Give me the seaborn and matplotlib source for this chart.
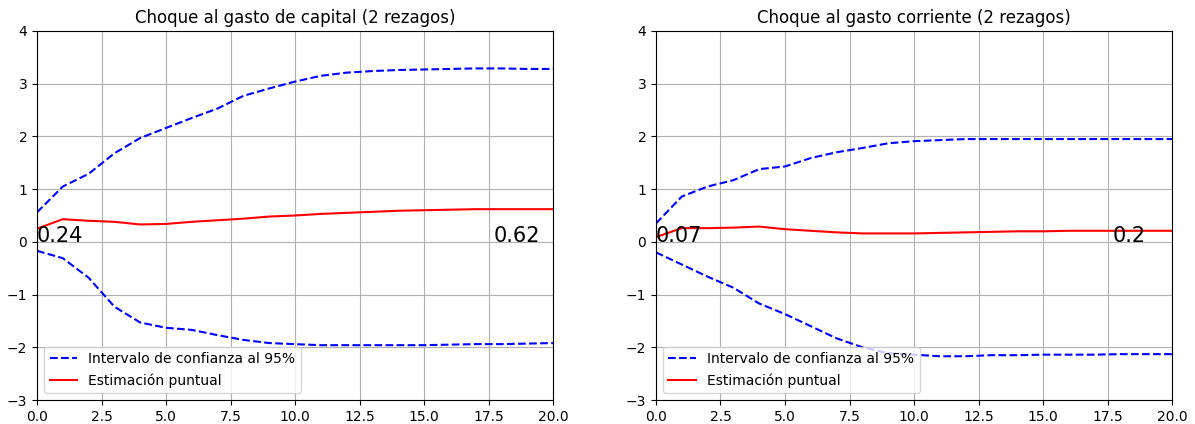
import matplotlib
matplotlib.use("Agg")
import matplotlib.pyplot as plt
import seaborn as sns
import numpy as np
import pandas as pd

periods = list(range(21))

# Choque al gasto de capital
cap_upper = [0.56, 1.05, 1.29, 1.68, 1.97, 2.16, 2.35, 2.53, 2.77, 2.91, 3.04,
             3.15, 3.21, 3.24, 3.26, 3.27, 3.28, 3.29, 3.29, 3.28, 3.28]
cap_point = [0.25, 0.43, 0.40, 0.38, 0.33, 0.34, 0.38, 0.41, 0.44, 0.48, 0.50,
             0.53, 0.55, 0.57, 0.59, 0.60, 0.61, 0.62, 0.62, 0.62, 0.62]
cap_lower = [-0.17, -0.31, -0.68, -1.23, -1.53, -1.63, -1.67, -1.77, -1.86, -1.92, -1.94,
             -1.96, -1.96, -1.96, -1.96, -1.96, -1.95, -1.94, -1.94, -1.93, -1.92]

# Choque al gasto corriente
cor_upper = [0.35, 0.86, 1.05, 1.17, 1.38, 1.43, 1.59, 1.70, 1.78, 1.87, 1.91,
             1.93, 1.95, 1.95, 1.95, 1.95, 1.95, 1.95, 1.95, 1.95, 1.95]
cor_point = [0.09, 0.26, 0.26, 0.27, 0.29, 0.24, 0.21, 0.18, 0.16, 0.16, 0.16,
             0.17, 0.18, 0.19, 0.20, 0.20, 0.21, 0.21, 0.21, 0.21, 0.21]
cor_lower = [-0.20, -0.43, -0.66, -0.87, -1.17, -1.37, -1.60, -1.83, -2.00, -2.11, -2.14,
             -2.17, -2.17, -2.15, -2.15, -2.14, -2.14, -2.14, -2.13, -2.13, -2.13]

titles = ["Choque al gasto de capital (2 rezagos)", "Choque al gasto corriente (2 rezagos)"]
start_labels = ["0.24", "0.07"]
end_labels = ["0.62", "0.2"]
legend_ci = "Intervalo de confianza al 95%"
legend_pt = "Estimación puntual"

fig = plt.figure(figsize=(11.95, 4.24), dpi=100)
ax1 = fig.add_axes([37/1195, 1-400/424, (553-37)/1195, (400-31)/424])
ax2 = fig.add_axes([656/1195, 1-400/424, (1172-656)/1195, (400-31)/424])

series = [(cap_upper, cap_point, cap_lower), (cor_upper, cor_point, cor_lower)]
for ax, (up, pt, lo), title, sl, el in zip([ax1, ax2], series, titles, start_labels, end_labels):
    df = pd.DataFrame({"t": periods, "up": up, "pt": pt, "lo": lo})
    sns.lineplot(data=df, x="t", y="up", ax=ax, color="b", linestyle="--", linewidth=1.5,
                 label=legend_ci)
    sns.lineplot(data=df, x="t", y="lo", ax=ax, color="b", linestyle="--", linewidth=1.5)
    sns.lineplot(data=df, x="t", y="pt", ax=ax, color="r", linestyle="-", linewidth=1.5,
                 label=legend_pt)
    ax.set_xlim(0, 20)
    ax.set_ylim(-3, 4)
    ax.set_xlabel("")
    ax.set_ylabel("")
    ax.set_title(title, fontsize=12)
    ax.grid(True, color="#b0b0b0", linewidth=0.8)
    ax.set_xticks([0, 2.5, 5, 7.5, 10, 12.5, 15, 17.5, 20])
    ax.set_yticks([-3, -2, -1, 0, 1, 2, 3, 4])
    ax.text(0, 0, sl, fontsize=15)
    ax.text(17.7, 0, el, fontsize=15)
    ax.legend(loc="lower left", fontsize=10)

fig.savefig("out.png", dpi=100)
